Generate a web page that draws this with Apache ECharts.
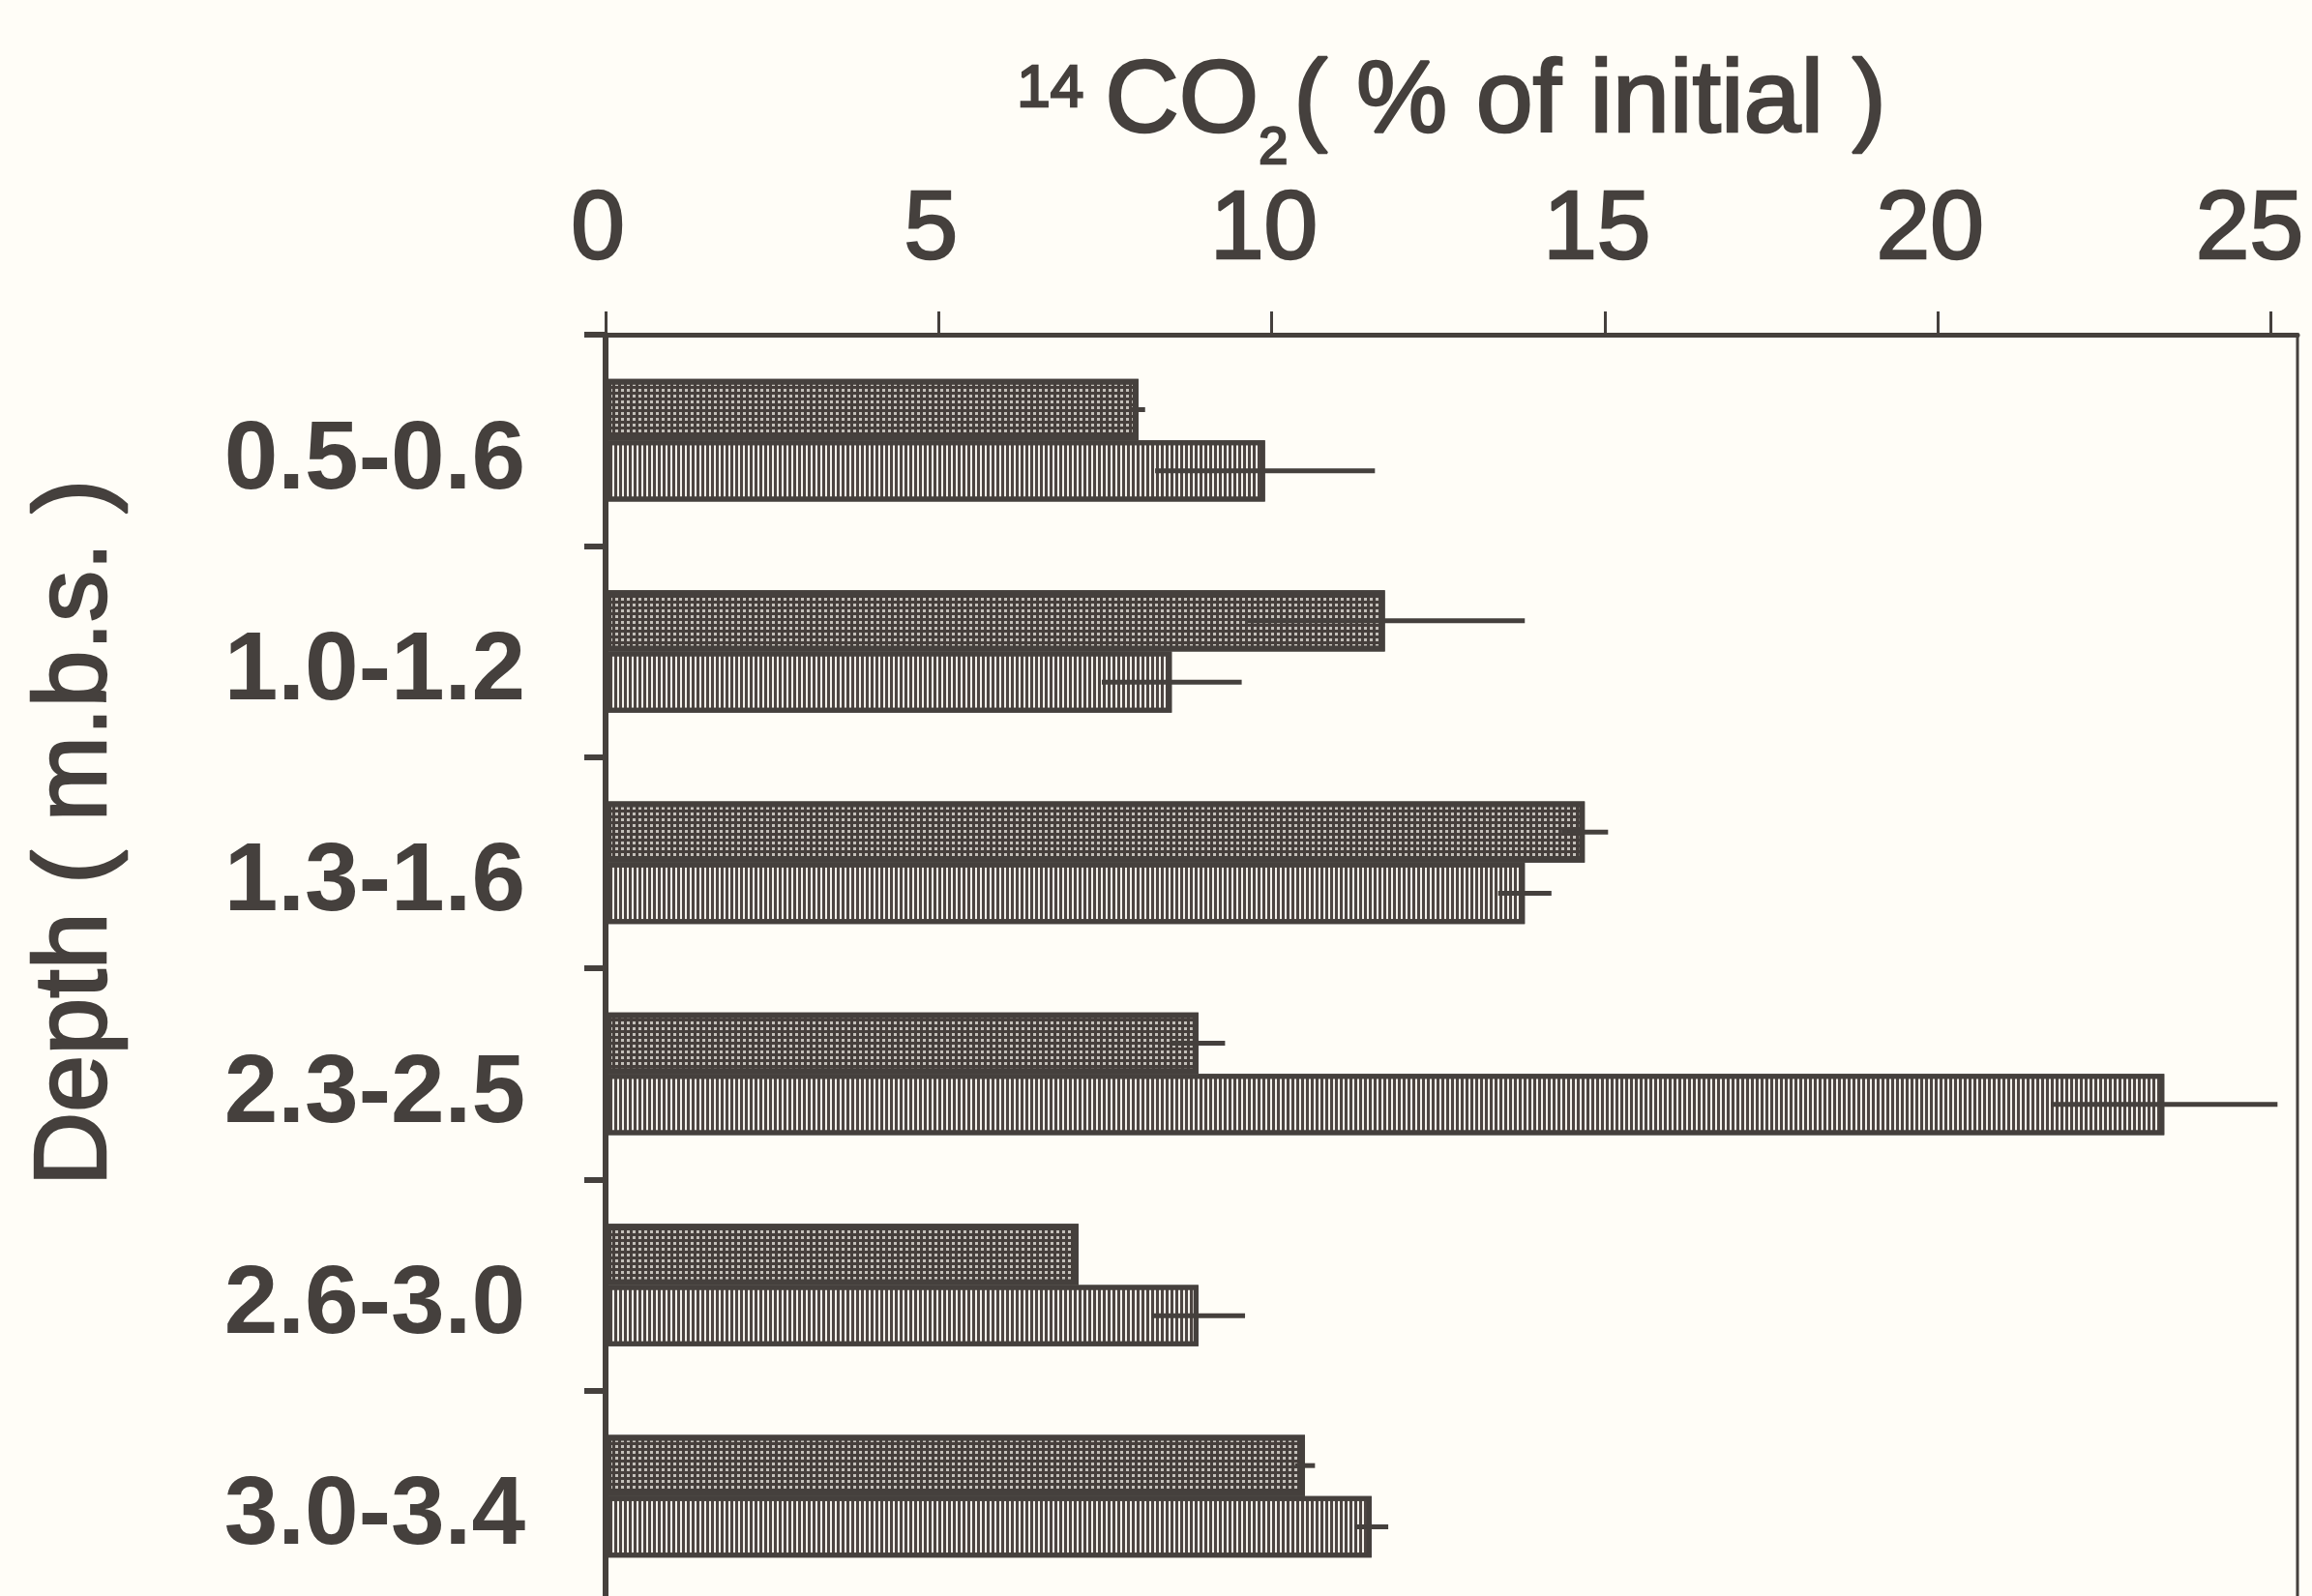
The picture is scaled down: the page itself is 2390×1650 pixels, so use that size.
<!DOCTYPE html>
<html>
<head>
<meta charset="utf-8">
<script src="https://cdn.jsdelivr.net/npm/echarts@6/dist/echarts.min.js"></script>
<style>
  html, body { margin: 0; padding: 0; background: #fffdf7; }
  #chart { width: 2390px; height: 1650px; }
</style>
</head>
<body>
<div id="chart"></div>
<script>
// depth intervals (m below surface), top to bottom
const depths = ["0.5-0.6", "1.0-1.2", "1.3-1.6", "2.3-2.5", "2.6-3.0", "3.0-3.4"];
// 14CO2 evolved, % of initial (upper dark bars / lower striped bars)
const darkValues = [8.0, 11.7, 14.7, 8.9, 7.1, 10.5];
const darkErrors = [0.1, 2.1, 0.35, 0.4, 0.0, 0.15];
const lightValues = [9.9, 8.5, 13.8, 23.4, 8.9, 11.5];
const lightErrors = [1.65, 1.05, 0.4, 1.7, 0.7, 0.25];
// x axis tick labels
const xTicks = [0, 5, 10, 15, 20, 25];

const ink = "#45403d";
const font = "'Liberation Sans', Arial, sans-serif";
const barFrac = 0.29;

const errData = [];
depths.forEach((d, i) => {
  errData.push([i, darkValues[i], darkErrors[i], 0]);
  errData.push([i, lightValues[i], lightErrors[i], 1]);
});

// scanned-print look: slightly heavier than regular weight
const heavy = { textBorderColor: ink, textBorderWidth: 2.5 };

const chart = echarts.init(document.getElementById("chart"), null, { renderer: "canvas" });

const option = {
  backgroundColor: "#fffdf7",
  animation: false,
  grid: {
    left: 626,
    right: 15,
    top: 346,
    bottom: -6,
    outerBoundsMode: "none",
    show: true,
    borderColor: ink,
    borderWidth: 3,
    backgroundColor: "transparent",
  },
  graphic: [
    {
      type: "text",
      x: 80,
      y: 861,
      rotation: Math.PI / 2,
      style: {
        text: "Depth ( m.b.s. )",
        fontSize: 106,
        fontFamily: font,
        fill: ink,
        stroke: ink,
        lineWidth: 2.5,
        align: "center",
        verticalAlign: "middle",
        textAlign: "center",
        textVerticalAlign: "middle",
      },
    },
  ],
  xAxis: {
    type: "value",
    position: "top",
    min: xTicks[0],
    max: 25.4,
    interval: xTicks[1] - xTicks[0],
    splitLine: { show: false },
    axisLine: { show: true, lineStyle: { color: ink, width: 5 } },
    axisTick: { show: true, inside: false, length: 24, lineStyle: { color: ink, width: 3 } },
    axisLabel: {
      margin: 57,
      showMinLabel: true,
      showMaxLabel: false,
      formatter: (v) => {
        if (xTicks.indexOf(v) < 0) return "";
        return v === xTicks[xTicks.length - 1] ? "{e|" + v + "}" : "{t|" + v + "}";
      },
      rich: {
        t: Object.assign({ color: ink, fontSize: 100, fontFamily: font, padding: [0, 16, 0, 0] }, heavy),
        e: Object.assign({ color: ink, fontSize: 100, fontFamily: font, padding: [0, 44, 0, 0] }, heavy),
      },
    },
    name: "{sup|14}{main|CO}{sub|2}{main|( % of initial )}",
    nameLocation: "middle",
    nameGap: 160,
    nameTextStyle: {
      color: ink,
      fontFamily: font,
      rich: {
        sup: Object.assign({ fontSize: 62, fontFamily: font, color: ink, padding: [0, 22, 28, 0] }, heavy),
        main: Object.assign({ fontSize: 106, fontFamily: font, color: ink }, heavy),
        sub: Object.assign({ fontSize: 54, fontFamily: font, color: ink, padding: [96, 6, 0, 0] }, heavy),
      },
    },
  },
  yAxis: {
    type: "category",
    inverse: true,
    data: depths,
    axisLine: { show: true, lineStyle: { color: ink, width: 6 } },
    axisTick: { show: true, inside: false, length: 22, lineStyle: { color: ink, width: 6 } },
    axisLabel: {
      margin: 83,
      formatter: (v) => "{c|" + v + "}",
      rich: {
        c: {
          color: ink,
          fontSize: 100,
          fontWeight: "bold",
          fontFamily: font,
          padding: [44, 0, 0, 0],
        },
      },
    },
    splitLine: { show: false },
  },
  series: [
    {
      name: "dark",
      type: "bar",
      data: darkValues,
      barWidth: barFrac * 100 + "%",
      barGap: "0%",
      itemStyle: {
        color: "#463f3c",
        borderColor: ink,
        borderWidth: 6,
        decal: {
          symbol: "rect",
          symbolSize: 1,
          color: "#c4c0ba",
          dashArrayX: [3, 3],
          dashArrayY: [3, 3],
        },
      },
      z: 2,
    },
    {
      name: "light",
      type: "bar",
      data: lightValues,
      barWidth: barFrac * 100 + "%",
      barGap: "0%",
      itemStyle: {
        color: "#f3f0ea",
        borderColor: ink,
        borderWidth: 5,
        decal: {
          symbol: "rect",
          symbolSize: 1,
          color: "#4d4542",
          dashArrayX: [3, 2],
          dashArrayY: [4, 0],
        },
      },
      z: 2,
    },
    {
      name: "error",
      type: "custom",
      data: errData,
      encode: { x: 1, y: 0 },
      z: 5,
      silent: true,
      renderItem: (params, api) => {
        const cat = api.value(0);
        const val = api.value(1);
        const err = api.value(2);
        const which = api.value(3);
        if (!err) return null;
        const band = api.size([0, 1])[1];
        const c = api.coord([val, cat]);
        const y = c[1] + (which === 0 ? -1 : 1) * band * barFrac / 2;
        const p1 = api.coord([val - err, cat]);
        const p2 = api.coord([val + err, cat]);
        return {
          type: "line",
          shape: { x1: p1[0], y1: y, x2: p2[0], y2: y },
          style: { stroke: ink, lineWidth: 5 },
        };
      },
    },
  ],
};

chart.setOption(option);
</script>
</body>
</html>
